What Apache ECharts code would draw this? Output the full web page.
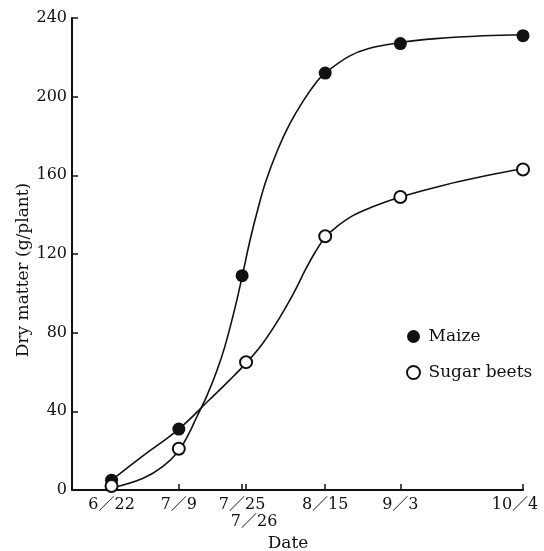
<!DOCTYPE html>
<html>
<head>
<meta charset="utf-8">
<script src="https://cdn.jsdelivr.net/npm/echarts@6/dist/echarts.min.js"></script>
<style>
  html, body { margin: 0; padding: 0; background: #fff; }
  #chart { width: 544px; height: 551px; }
</style>
</head>
<body>
<div id="chart"></div>
<script>
// Sampling dates, counted in days from 6/22
const sampleDays = [0, 17, 33, 54, 73, 104];
const beetDays = [0, 17, 34, 54, 73, 104];

// Measured dry matter (g/plant)
const maizeValues = [5, 31, 109, 212, 227, 231];
const beetValues = [2, 21, 65, 129, 149, 163];

// Hand-fitted growth curves, [day, g/plant]
const maizeCurve = [
  [0, 1], [8, 6], [13, 12], [17, 20], [19.5, 28.5], [21.5, 37], [24, 47.5],
  [26.5, 60], [28.5, 72], [31, 91], [33, 108.5], [35, 127], [37, 143],
  [39, 157], [42, 173], [45, 186], [48.5, 198], [52, 208], [54, 212],
  [60, 220.5], [65, 224.5], [73, 227.5], [82, 229.5], [94, 231], [104, 231.5]
];
const beetCurve = [
  [0, 5], [8, 17.5], [17, 31], [24.8, 46], [29.9, 56], [34, 64.5], [38, 74],
  [42, 86], [46, 100], [49, 112], [51.5, 121], [54, 128.5], [57, 134],
  [61, 139.5], [66, 144], [73, 149], [84, 155], [94, 159.5], [104, 163.5]
];

// Date axis ticks and their labels
const dateTicks = [0, 17, 33, 34, 54, 73, 104];
const dateLabels = ['6／22', '7／9', '7／25', '7／26', '8／15', '9／3', '10／4'];
const yTicks = [0, 40, 80, 120, 160, 200, 240];

const FONT = "'DejaVu Serif', 'Noto Sans CJK JP', serif";
const INK = '#111';

function pairs(xs, ys) { return xs.map((x, i) => [x, ys[i]]); }

const chart = echarts.init(document.getElementById('chart'), null, { renderer: 'canvas' });

const labelBase = { fontFamily: FONT, fontSize: 16, color: INK, lineHeight: 17 };

chart.setOption({
  backgroundColor: '#fff',
  animation: false,
  grid: { left: 72, right: 21, top: 18, bottom: 61, containLabel: false, outerBoundsMode: 'none' },
  legend: {
    orient: 'vertical',
    left: 401,
    top: 323,
    itemWidth: 20,
    itemHeight: 13,
    itemGap: 19,
    textStyle: { fontFamily: FONT, fontSize: 17, color: INK },
    data: [
      { name: 'Maize', icon: 'circle', itemStyle: { color: INK, borderWidth: 0 } },
      { name: 'Sugar beets', icon: 'circle', itemStyle: { color: '#fff', borderColor: INK, borderWidth: 2 } }
    ]
  },
  xAxis: {
    type: 'value',
    min: -10,
    max: 104,
    name: 'Date',
    nameLocation: 'middle',
    nameGap: 45,
    nameTextStyle: { fontFamily: FONT, fontSize: 17, color: INK, padding: [0, 19, 0, 0] },
    splitLine: { show: false },
    axisLine: { show: true, onZero: false, lineStyle: { color: INK, width: 2 } },
    axisTick: { show: true, inside: true, length: 6, customValues: dateTicks, lineStyle: { color: INK, width: 1.5 } },
    axisLabel: Object.assign({}, labelBase, {
      customValues: dateTicks,
      margin: 6,
      formatter: function (v) {
        const i = dateTicks.indexOf(v);
        if (i < 0) return '';
        const t = dateLabels[i];
        if (v === 34) return '\n{r|' + t + '}';
        if (v === 104) return '{l|' + t + '}';
        return t;
      },
      rich: {
        r: Object.assign({}, labelBase, { padding: [0, 0, 0, 16] }),
        l: Object.assign({}, labelBase, { padding: [0, 16, 0, 0] })
      }
    })
  },
  yAxis: {
    type: 'value',
    min: 0,
    max: 240,
    interval: 40,
    name: 'Dry matter (g/plant)',
    nameLocation: 'middle',
    nameGap: 40,
    nameMoveOverlap: false,
    nameTextStyle: { fontFamily: FONT, fontSize: 17, color: INK, padding: [0, 32, 0, 0] },
    splitLine: { show: false },
    axisLine: { show: true, onZero: false, lineStyle: { color: INK, width: 2 } },
    axisTick: { show: true, inside: true, length: 6, lineStyle: { color: INK, width: 1.5 } },
    axisLabel: {
      margin: 5,
      fontFamily: FONT,
      fontSize: 16,
      color: INK,
      customValues: yTicks
    }
  },
  series: [
    {
      name: 'maize-curve',
      type: 'line',
      data: maizeCurve,
      smooth: 0.4,
      showSymbol: false,
      silent: true,
      lineStyle: { color: INK, width: 1.6 },
      z: 2
    },
    {
      name: 'beet-curve',
      type: 'line',
      data: beetCurve,
      smooth: 0.4,
      showSymbol: false,
      silent: true,
      lineStyle: { color: INK, width: 1.6 },
      z: 2
    },
    {
      name: 'Maize',
      type: 'scatter',
      data: pairs(sampleDays, maizeValues),
      symbol: 'circle',
      symbolSize: 13,
      itemStyle: { color: INK, opacity: 1 },
      z: 3
    },
    {
      name: 'Sugar beets',
      type: 'scatter',
      data: pairs(beetDays, beetValues),
      symbol: 'circle',
      symbolSize: 12,
      itemStyle: { color: '#fff', borderColor: INK, borderWidth: 2, opacity: 1 },
      z: 4
    }
  ]
});
</script>
</body>
</html>
